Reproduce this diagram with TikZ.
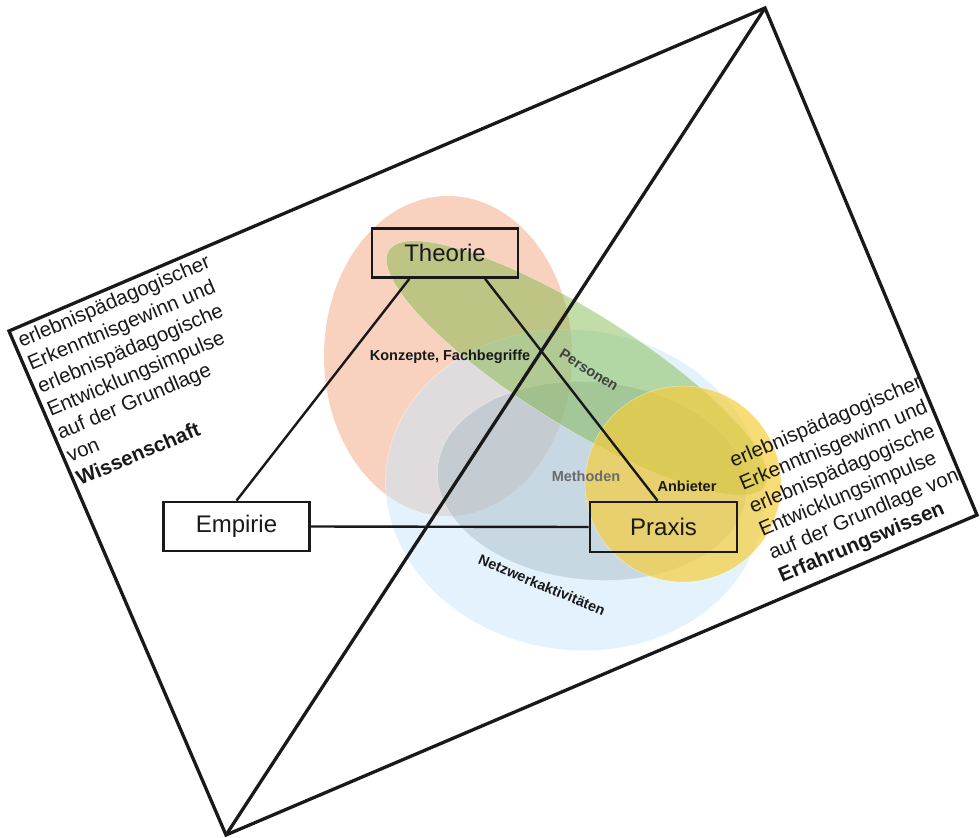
\documentclass[tikz,border=0pt]{standalone}
\usepackage{fontspec}
\setmainfont{Liberation Sans}
\usetikzlibrary{calc}
\definecolor{peachc}{RGB}{245,182,152}
\definecolor{bluec}{RGB}{200,230,250}
\definecolor{greyc}{RGB}{170,190,200}
\definecolor{greenc}{RGB}{120,180,60}
\definecolor{yellowc}{RGB}{245,205,60}
\definecolor{ink}{RGB}{25,25,25}
\begin{document}
\begin{tikzpicture}[x=1pt,y=-1pt,
  box/.style={draw=ink, line width=2.8pt, minimum width=146pt, minimum height=49pt, inner sep=0pt, font=\fontsize{24}{28}\selectfont, text=ink},
  conn/.style={line width=2.4pt, draw=ink},
  frame/.style={line width=3.3pt, draw=ink, line join=miter},
  lbl/.style={font=\bfseries\fontsize{14.5}{17}\selectfont, text=ink, inner sep=0pt},
  blk/.style={font=\fontsize{20.5}{25}\selectfont, text=ink, inner sep=0pt, anchor=base west, align=left, rotate=23},
  blob/.style={draw=white, draw opacity=0.5, line width=0.5pt}
]
\useasboundingbox (0,0) rectangle (980,838);

% overlapping areas
\fill[peachc, fill opacity=0.62] (448,356) ellipse [x radius=124pt, y radius=160pt];
\begin{scope}[shift={(575,490)}, rotate=-8]
  \filldraw[blob, fill=bluec, fill opacity=0.5] (0,0) ellipse [x radius=190pt, y radius=160pt];
\end{scope}
\begin{scope}[shift={(592,481)}, rotate=-5]
  \filldraw[blob, fill=greyc, fill opacity=0.5] (0,0) ellipse [x radius=155pt, y radius=99pt];
\end{scope}
\begin{scope}[shift={(577,368)}, rotate=-32]
  \filldraw[blob, fill=greenc, fill opacity=0.45] (0,0) ellipse [x radius=222pt, y radius=57pt];
\end{scope}
\filldraw[blob, fill=yellowc, fill opacity=0.7] (683,484) circle [radius=98pt];

% frame
\coordinate (T) at (765,8);
\coordinate (L) at (9,331);
\coordinate (B) at (226,835);
\coordinate (R) at (977,515);
\draw[frame] (T) -- (L) -- (B) -- (R) -- cycle;
\draw[frame] (B) -- (T);

% boxes
\node[box] (theorie) at (445,253) {Theorie};
\node[box, minimum width=147pt, minimum height=50pt] (praxis) at (663.5,527) {Praxis};
\node[box] (empirie) at (236.5,526.5) {Empirie};

\draw[conn] ($(theorie.south west)!0.26!(theorie.south east)$) -- (empirie.north);
\draw[conn] ($(theorie.south west)!0.77!(theorie.south east)$) -- ($(praxis.north west)!0.46!(praxis.north east)$);
\draw[conn] (empirie.east) -- (praxis.west);

% labels
\node[lbl] (konzepte) at (450,357) {Konzepte, Fachbegriffe};
\node[lbl, rotate=-32, text=black!75] (personen) at (589,370) {Personen};
\node[lbl, text=black!58] (methoden) at (586,476) {Methoden};
\node[lbl] (anbieter) at (687,486) {Anbieter};
\node[lbl, rotate=-22.5] (netz) at (542,585) {Netzwerkaktivitäten};

% text blocks (anchored at the baseline start of the last line)
\node[blk] (lefttext) at (80,486) {erlebnispädagogischer\\Erkenntnisgewinn und\\erlebnispädagogische\\Entwicklungsimpulse\\auf der Grundlage\\von\\\textbf{Wissenschaft}};
\node[blk] (righttext) at (782,583) {erlebnispädagogischer\\Erkenntnisgewinn und\\erlebnispädagogische\\Entwicklungsimpulse\\auf der Grundlage von\\\textbf{Erfahrungswissen}};
\end{tikzpicture}
\end{document}
